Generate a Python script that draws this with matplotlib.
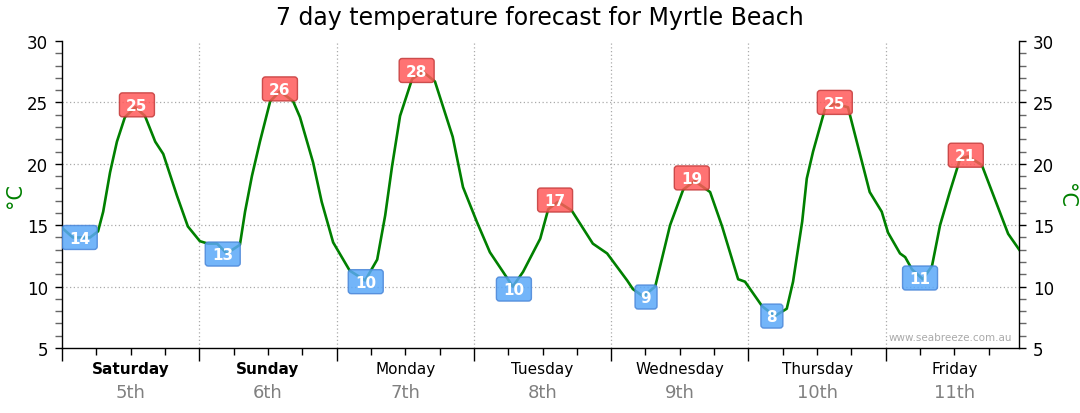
"""
7 day temperature forecast for Myrtle Beach — hourly trace with min/max tags.
"""
import matplotlib
matplotlib.use("Agg")
import matplotlib.pyplot as plt
import matplotlib.transforms as mtransforms
from matplotlib.patches import FancyBboxPatch

# hours from Saturday 00:00, temperature [°C]
hours = [0.2, 1.9, 4.9, 6.3, 7.2, 8.4, 9.6, 11.0, 12.8, 14.5, 16.3, 17.7, 20.1, 22.0,
         24.1, 25.5, 27.1, 28.8, 31.1, 32.0, 33.2, 34.6, 36.4, 38.1, 40.4, 41.6, 43.9,
         45.4, 47.4, 50.3, 53.0, 55.1, 56.5, 57.7, 59.1, 61.2, 63.1, 65.2, 68.3, 70.1,
         72.5, 74.8, 77.1, 78.8, 80.6, 83.6, 85.0, 86.7, 89.1, 92.8, 95.3, 98.8, 99.8,
         101.6, 103.7, 106.3, 108.6, 110.6, 113.3, 115.4, 118.2, 119.4, 122.4, 124.6,
         126.7, 127.8, 129.4, 130.2, 131.3, 133.4, 135.1, 137.4, 141.2, 143.3, 144.4,
         146.5, 147.4, 148.6, 150.5, 152.1, 153.5, 155.2, 157.0, 158.4, 160.8, 165.4, 167.5]
temps = [14.7, 14.0, 14.0, 14.5, 16.1, 19.3, 21.8, 23.8, 24.6, 23.9, 21.8, 20.8, 17.4, 14.9,
         13.7, 13.5, 13.5, 12.7, 13.4, 16.1, 19.0, 21.8, 25.1, 25.9, 25.1, 23.8, 20.1,
         16.9, 13.6, 11.3, 10.5, 12.2, 15.8, 19.8, 23.9, 26.9, 27.5, 26.7, 22.2, 18.1,
         15.3, 12.8, 11.2, 10.0, 11.2, 13.9, 16.3, 16.9, 16.2, 13.5, 12.7, 10.5, 9.8,
         9.2, 10.0, 15.0, 17.9, 18.6, 17.7, 14.9, 10.6, 10.4, 8.4, 7.6,
         8.2, 10.4, 15.3, 18.8, 21.0, 24.5, 24.9, 24.6, 17.7, 16.1, 14.4,
         12.7, 12.4, 11.4, 10.6, 11.7, 15.0, 17.7, 20.4, 20.6, 19.9, 14.3, 12.9]

# daily extremes (tag centre)
ext_hours = [3.1, 13.1, 28.1, 38.1, 53.1, 62.0, 79.0, 86.2, 102.1, 110.1, 124.1, 135.1, 150.0, 158.0]
ext_temps = [14.0, 24.8, 12.65, 26.1, 10.4, 27.6, 9.8, 17.05, 9.15, 18.85, 7.6, 25.0, 10.7, 20.7]
ext_kind = ["min", "max", "min", "max", "min", "max", "min", "max", "min", "max",
            "min", "max", "min", "max"]

day_names = ["Saturday", "Sunday", "Monday", "Tuesday", "Wednesday", "Thursday", "Friday"]
day_dates = ["5th", "6th", "7th", "8th", "9th", "10th", "11th"]
weekend = ["Saturday", "Sunday"]

fig = plt.figure(figsize=(10.8, 4.14), dpi=100)
ax = fig.add_axes([62 / 1080, 1 - 349 / 414, (1019 - 62) / 1080, 307 / 414])
XMAX = 167.3
ax.set_xlim(0, XMAX)
ax.set_ylim(5, 30)

ax.plot(hours, temps, color="#008000", lw=1.9, zorder=3, solid_joinstyle="round")

# min / max tags, sized in pixels then converted to data units
px_x = XMAX / (1019 - 62)
px_y = 25 / 307
for h, t, k in zip(ext_hours, ext_temps, ext_kind):
    txt = str(int(round(t)))
    w = (35 if len(txt) > 1 else 22) * px_x
    hgt = 24 * px_y
    fc = "#ff5a5a" if k == "max" else "#5aa8f8"
    ec = "#c43a3a" if k == "max" else "#4a86d8"
    box = FancyBboxPatch((h - w / 2, t - hgt / 2), w, hgt,
                         boxstyle=f"round,pad=0,rounding_size={3 * px_x}",
                         mutation_aspect=px_y / px_x,
                         fc=fc, ec=ec, lw=1.0, alpha=0.85, zorder=4)
    ax.add_patch(box)
    ax.text(h, t - 0.05, txt, color="white", fontsize=11, fontweight="bold",
            ha="center", va="center", zorder=5)

# axes styling
for s in ("top",):
    ax.spines[s].set_visible(False)
for s in ("left", "right", "bottom"):
    ax.spines[s].set_linewidth(1.0)

ax.set_xticks(range(0, 168, 24))
ax.set_xticks([h for h in range(0, 168, 6) if h % 24], minor=True)
ax.tick_params(axis="x", which="major", length=9, width=1, labelbottom=False)
ax.tick_params(axis="x", which="minor", length=5, width=1)
ax.set_yticks([5, 10, 15, 20, 25, 30])
ax.set_yticks([v for v in range(5, 31) if v % 5], minor=True)
ax.tick_params(axis="y", which="major", length=5, width=1, labelsize=12, pad=5,
               left=True, right=True, labelleft=True, labelright=True)
ax.tick_params(axis="y", which="minor", length=5, width=1, color="#666666",
               left=True, right=True)
for lbl in ax.get_yticklabels():
    lbl.set_fontsize(12)

ax.grid(True, which="major", axis="both", color="#aaaaaa", ls=(0, (1, 2)), lw=0.9)
ax.set_axisbelow(True)
# no grid line at the bottom / top edge
for gl, v in zip(ax.get_ygridlines(), [5, 10, 15, 20, 25, 30]):
    if v in (5, 30):
        gl.set_visible(False)
for gl, v in zip(ax.get_xgridlines(), range(0, 168, 24)):
    if v == 0:
        gl.set_visible(False)

# day labels
trans = mtransforms.blended_transform_factory(ax.transData, ax.transAxes)
for i, (name, date) in enumerate(zip(day_names, day_dates)):
    xc = 24 * i + 12
    ax.text(xc, -0.068, name, transform=trans, ha="center", va="center", fontsize=11,
            fontweight="bold" if name in weekend else "normal", color="black")
    ax.text(xc, -0.143, date, transform=trans, ha="center", va="center", fontsize=13,
            color="#808080")

fig.text(15 / 1080, 1 - 196 / 414, "°C", rotation=90, color="#008000", fontsize=15,
         ha="center", va="center")
fig.text(1066 / 1080, 1 - 196 / 414, "°C", rotation=270, color="#008000", fontsize=15,
         ha="center", va="center")

ax.text(0.993, 0.035, "www.seabreeze.com.au", transform=ax.transAxes, ha="right",
        va="center", fontsize=7.5, color="#aaaaaa")

fig.text(0.5, 1 - 18 / 414, "7 day temperature forecast for Myrtle Beach",
         ha="center", va="center", fontsize=17)

fig.savefig("out.png", dpi=100)
